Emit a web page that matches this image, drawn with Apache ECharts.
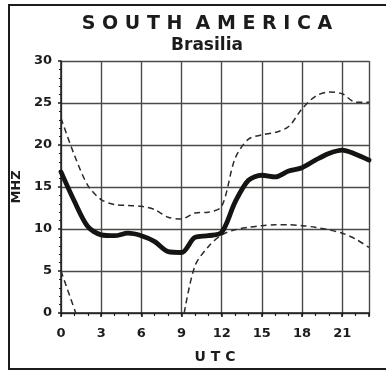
<!DOCTYPE html>
<html>
<head>
<meta charset="utf-8">
<script src="https://cdn.jsdelivr.net/npm/echarts@6/dist/echarts.min.js"></script>
<style>
  html, body { margin: 0; padding: 0; background: #ffffff; }
  #chart { width: 386px; height: 374px; }
</style>
</head>
<body>
<div id="chart"></div>
<script>
// Hour of day (UTC) for the hourly forecasts
const hours = [0, 1, 2, 3, 4, 5, 6, 7, 8, 9, 10, 11, 12, 13, 14, 15, 16, 17, 18, 19, 20, 21, 22, 23];

// Median usable frequency (MHz), heavy solid curve
const medianMhz = [16.8, 13.3, 10.3, 9.3, 9.2, 9.5, 9.2, 8.5, 7.3, 7.2, 9.0, 9.2,
                   9.6, 13.2, 15.8, 16.4, 16.2, 16.9, 17.3, 18.2, 19.0, 19.4, 18.9, 18.2];

// Upper decile (MHz), dashed curve above
const upperMhz = [23.2, 18.8, 15.2, 13.5, 12.9, 12.8, 12.7, 12.3, 11.4, 11.2, 11.9, 12.0,
                  12.7, 18.4, 20.7, 21.2, 21.5, 22.2, 24.3, 25.8, 26.3, 26.1, 25.1, 25.1];

// Lower decile (MHz), dashed curve below; null marks where it drops off the scale
const lowerHours = [0, 1.1, null, 9.2, 10, 11, 12, 13, 14, 15, 16, 17, 18, 19, 20, 21, 22, 23];
const lowerMhz   = [5.0, 0, null, 0, 5.6, 7.9, 9.3, 9.9, 10.2, 10.4, 10.5, 10.5, 10.4, 10.2, 9.9, 9.5, 8.8, 7.8];

// Axis tick labels
const xTickLabels = ['0', '3', '6', '9', '12', '15', '18', '21'];
const yTickLabels = ['0', '5', '10', '15', '20', '25', '30'];

const FONT = 'DejaVu Sans';
const INK = '#1c1c1a';
const GRIDINK = '#4a4a46';

const pairs = (xs, ys) => xs.map((x, i) => (x === null || ys[i] === null) ? ['-', '-'] : [x, ys[i]]);

const chart = echarts.init(document.getElementById('chart'), null, { renderer: 'canvas' });

chart.setOption({
  backgroundColor: '#ffffff',
  animation: false,
  title: [
    {
      text: 'S O U T H  A M E R I C A',
      left: 202, top: 10, textAlign: 'center',
      textStyle: { fontFamily: FONT, fontWeight: 'bold', fontSize: 19, color: INK }
    },
    {
      text: 'Brasilia',
      left: 202, top: 32, textAlign: 'center',
      textStyle: { fontFamily: FONT, fontWeight: 'bold', fontSize: 17, color: INK }
    }
  ],
  grid: { left: 61, right: 17, top: 61, bottom: 61, containLabel: false },
  xAxis: [
    {
      // labelled axis: grid lines every 3 hours
      type: 'value', min: 0, max: 23, interval: 3,
      name: 'U T C', nameLocation: 'middle', nameGap: 37,
      nameTextStyle: { fontFamily: FONT, fontWeight: 'bold', fontSize: 14, color: INK },
      axisLine: { show: true, onZero: false, lineStyle: { color: INK, width: 1.5 } },
      axisTick: { show: true, length: 4, lineStyle: { color: INK, width: 1.5 } },
      axisLabel: {
        margin: 14, fontFamily: FONT, fontWeight: 'bold', fontSize: 13, color: INK,
        formatter: v => {
          const i = Math.round(v / 3);
          return (Math.abs(v - i * 3) < 1e-6 && xTickLabels[i] !== undefined) ? xTickLabels[i] : '';
        }
      },
      splitLine: { show: true, lineStyle: { color: GRIDINK, width: 1.4 } }
    },
    {
      // hourly tick marks along the base line
      type: 'value', min: 0, max: 23, interval: 1, position: 'bottom',
      axisLine: { show: false },
      axisTick: { show: true, length: 3, lineStyle: { color: INK, width: 1.2 } },
      axisLabel: { show: false },
      splitLine: { show: false }
    }
  ],
  yAxis: {
    type: 'value', min: 0, max: 30, interval: 5,
    name: 'MHZ', nameLocation: 'middle', nameGap: 35, nameRotate: 90,
    nameTextStyle: { fontFamily: FONT, fontWeight: 'bold', fontSize: 13, color: INK },
    axisLine: { show: true, lineStyle: { color: INK, width: 1.5 } },
    axisTick: { show: true, length: 3, lineStyle: { color: INK, width: 1.5 } },
    minorTick: { show: true, splitNumber: 5, length: 2, lineStyle: { color: INK, width: 1 } },
    axisLabel: {
      margin: 9, fontFamily: FONT, fontWeight: 'bold', fontSize: 13, color: INK,
      formatter: v => yTickLabels[Math.round(v / 5)] || ''
    },
    splitLine: { show: true, lineStyle: { color: GRIDINK, width: 1.4 } }
  },
  graphic: [
    {
      // open frame round the figure (no right-hand side)
      type: 'polyline', silent: true,
      shape: { points: [[386, 5], [9, 5], [9, 369], [386, 369]] },
      style: { stroke: INK, lineWidth: 2, fill: null }
    }
  ],
  series: [
    {
      name: 'Upper', type: 'line', xAxisIndex: 0,
      data: pairs(hours, upperMhz), smooth: 0.3, showSymbol: false,
      lineStyle: { color: '#2a2a28', width: 1.5, type: [6, 4] }, z: 3
    },
    {
      name: 'Lower', type: 'line', xAxisIndex: 0,
      data: pairs(lowerHours, lowerMhz), smooth: 0.3, showSymbol: false, connectNulls: false,
      lineStyle: { color: '#2a2a28', width: 1.5, type: [6, 4] }, z: 3
    },
    {
      name: 'Median', type: 'line', xAxisIndex: 0,
      data: pairs(hours, medianMhz), smooth: 0.3, showSymbol: false,
      lineStyle: { color: '#141412', width: 4.8, cap: 'round', join: 'round' }, z: 4
    }
  ]
});
</script>
</body>
</html>
